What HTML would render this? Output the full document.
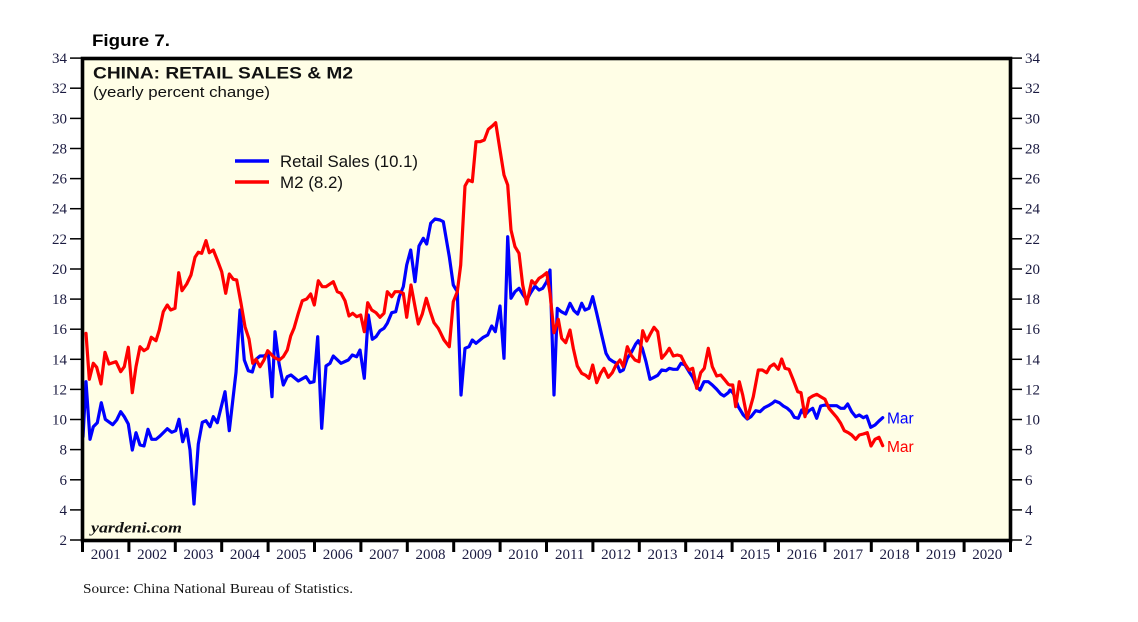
<!DOCTYPE html>
<html>
<head>
<meta charset="utf-8">
<style>
html,body{margin:0;padding:0;background:#ffffff;}
svg{display:block;}
</style>
</head>
<body>
<svg width="1138" height="622" viewBox="0 0 1138 622" xmlns="http://www.w3.org/2000/svg">
<rect x="0" y="0" width="1138" height="622" fill="#ffffff"/>
<!-- plot background -->
<rect x="82.5" y="58.5" width="928" height="482" fill="#FFFEE6"/>

<!-- Title -->
<text x="92" y="46" font-family="Liberation Sans, Arial, sans-serif" font-weight="bold" font-size="16.5" fill="#000" textLength="78" lengthAdjust="spacingAndGlyphs">Figure 7.</text>
<text x="93" y="78.5" font-family="Liberation Sans, Arial, sans-serif" font-weight="bold" font-size="16.5" fill="#111" textLength="260" lengthAdjust="spacingAndGlyphs">CHINA: RETAIL SALES &amp; M2</text>
<text x="93" y="97" font-family="Liberation Sans, Arial, sans-serif" font-size="15" fill="#111" textLength="177" lengthAdjust="spacingAndGlyphs">(yearly percent change)</text>

<!-- Legend -->
<line x1="235" y1="161" x2="269" y2="161" stroke="#0000ff" stroke-width="3.5"/>
<line x1="235" y1="182" x2="269" y2="182" stroke="#ff0000" stroke-width="3.5"/>
<text x="280" y="167" font-family="Liberation Sans, Arial, sans-serif" font-size="16.5" fill="#111" textLength="138" lengthAdjust="spacingAndGlyphs">Retail Sales (10.1)</text>
<text x="280" y="188" font-family="Liberation Sans, Arial, sans-serif" font-size="16.5" fill="#111" textLength="63" lengthAdjust="spacingAndGlyphs">M2 (8.2)</text>

<!-- series -->
<g fill="none" stroke-width="3.2" stroke-linejoin="round" stroke-linecap="round">
<polyline stroke="#0000ff" points="83,436.7 86,381.7 90,439.3 93.3,426.7 97.3,422.7 101.3,402.7 105.3,419.3 112.7,424.7 116.7,420 120.7,411.7 124.3,416.7 128.3,424 132.3,450 136,432.7 140,445 144,446 148,429.3 151.7,439.3 156,439.3 160,436 167.3,428.7 171.7,432.3 175.7,430.7 179,419.3 182.7,441.7 186.7,429.3 190,450 194,504 198.3,444 202.3,422.3 206,420.7 210,426.7 213.3,416.7 217.3,422.7 225,391.7 229.3,430.7 236,372.3 240,310 244.3,360 248.3,370.7 252.3,372 256,359.3 260,356 264,356 268.3,353.3 272,396.7 275,331.7 279,363.3 283.3,385 287.3,376.7 291,375 298.3,381 306,376.7 310,382.7 314,381.7 317.7,336.7 321.7,428.3 326,366 330,363.3 333.3,356 341,363.3 348.3,360 352.3,355 356.7,356.7 360,350 364.3,378.3 368.3,315 372.3,339.3 376,336.7 380,330.7 384,328.3 387.3,323.3 391.7,312.7 395.7,311.7 399.3,296.7 403.3,286.7 406.7,265 410.7,250 415,281.7 419,246 423.3,238.3 426.7,244 430.7,223.3 435,219 440,220 443.3,221.7 449.3,256.7 453.3,285 457.3,291.7 461,395 465,348.3 469,346.7 472.3,340 476,343.3 480,340 483.3,337.3 487.7,335 491.7,326 495.3,331.7 500,306 504,358.3 507.7,236.7 511,298.3 515,291.7 519,288.3 522.7,294.3 526.7,300 530.7,292.7 535,286 539,290 542.7,288.3 546.7,281.7 550,270 554,395 557.3,308.3 561.3,311.7 565.7,314 570,303.3 574,310.7 577.7,314 581.7,303.3 585,310 589,308.3 592.7,296.7 596.7,313.3 601.7,335 606,353.3 609.3,359 613.3,361.7 616.7,363.3 620,371.7 623.3,370 627.3,358.3 631.7,351.7 635.7,344 638.3,340.7 642.3,348.3 646,361.7 650,379.3 654,377.3 657.7,375.3 661.7,370 666,370.7 669.3,368.3 673.3,369.3 677.3,369.3 681,363.3 685,365 689,371.7 692.7,377.3 696.7,386.7 700,390 704,381.7 708.3,381.7 712.3,385 716.7,389.3 720.7,394 724,396 728.3,392.7 730,390 733.3,393.3 738.3,406.7 743.3,415 747.3,419 751,416.7 755.7,410.7 760,411.7 764.3,407.7 768.3,405.7 772.3,403.3 775,401 779.3,402.7 783.3,406 787.3,408.3 791,411.7 794.3,417.3 798.3,418.3 801.7,410 805,415 809,410.7 812.7,408.3 816.7,418.3 820.7,406 825,405 829,405.7 832.7,405.7 836.7,405.7 840.7,408.3 844.3,408.3 847.7,404 851.7,411.7 855.7,416.7 859.3,415 863.3,417.7 866.7,416 870.7,427.3 875,425 879,421 882.7,417.7"/>
<polyline stroke="#ff0000" points="86,333.3 89.3,379.3 93.3,363.3 96.7,367.3 101,384 105,352.3 109,364 116,361.7 120.7,371.7 124.3,366.7 128.3,347.3 132.3,392.7 136,366.7 140,346.7 144,350.7 147.7,348.3 151.3,337.3 156,340.7 159.3,330 163.3,311.7 167.3,305 170.7,310 175,308.3 178.7,272.7 182,290.7 186.7,284 191,275 195,257.3 198.3,252.3 201.7,253.3 206,240.7 209.3,252.7 213.3,250 217.3,260 221.7,271.7 225.7,293.3 229.3,274 233.3,279.3 236.7,280 241,303.3 245,326.7 249,339 252.7,363.3 256,359.3 260,366.7 264,360 267.7,350.7 274,357.3 279.3,360 283.3,356.7 287.3,350 290.7,336 294,328.3 298.3,313.3 302.3,300.7 306.7,299 310.7,294 314.3,305 318.3,280.7 322.3,286.7 326,286.7 333.3,281.7 337.3,291.7 341,293.3 345,300.7 349,316 352.7,313.3 356.7,316.7 360.7,315 364.3,331.7 367.7,302.7 371.7,310 376,312.7 380,317.3 384,313.3 387.3,291.7 391.7,296.7 395,291.7 399.3,291.7 403.3,293.3 406.7,317.3 411,285 415,306.7 418.3,324 422.3,314 426.3,298.3 430,310.7 434,322.7 438.3,328.3 440,331.7 444,340 449.3,346.7 453.3,301.7 457.3,291.7 460.7,265 465,186 468.3,180 472.3,181.7 476,141.7 480,141.7 484.3,140 488.3,129.3 492.3,126 495.7,122.7 500,150 504,175 507.7,185 511,230 515,246.7 519,253.3 522.7,285 526.7,304 531.7,280.7 535,284 539,278.3 542.7,276 546.7,272.7 550,293.3 554,332.7 558.3,319.3 561.7,338.3 565.7,342.7 570,330 573.3,348.3 577.3,366 581.7,373.3 585.7,375.3 589,378.3 592.7,365 596.7,382.7 600.7,373.3 604,368.3 608.3,377.3 612.3,372.7 616,365 620,360 623.3,366.7 627.3,346.7 631,355 635,360 639,361.7 642.7,330.7 646.7,341 650.7,333.3 654,327.3 657.7,331.7 661.7,358.3 666,353.3 669.3,348.3 673.3,356 677.3,355 681,356 685,364 689,370 692.7,368.3 696.7,388.3 700.7,372.7 704.3,368.3 708.3,348.3 712.3,366.7 716.7,376 720.7,375 724.3,379.3 728.3,384.3 730,385 732.7,385 735.7,406.7 739.3,381.7 742.7,395 747.3,418.3 753.3,396.7 758.3,370 762.3,370 766.7,372.7 770,366.7 774,364 778.3,369.3 781.7,359 785,368.3 789,369.3 793.3,380 797.7,391.7 801,392.7 805,416.7 809,398.3 812.7,396 816.7,394.3 820.7,396.7 825,399.3 829,408.3 832.7,412.7 836.7,417.3 840.7,423.3 844.3,430.7 848.3,432.7 851.7,435 855.7,439.3 859.3,435 863.3,434 867.3,432.7 871,446 875,439.3 879,437.3 882.7,445.7"/>
</g>

<!-- end labels -->
<text x="887" y="423.5" font-family="Liberation Sans, Arial, sans-serif" font-size="15.5" fill="#0000ff">Mar</text>
<text x="887" y="452" font-family="Liberation Sans, Arial, sans-serif" font-size="15.5" fill="#ff0000">Mar</text>

<!-- watermark -->
<text x="91" y="532.5" font-family="Liberation Serif, Times New Roman, serif" font-style="italic" font-weight="bold" font-size="15" fill="#111" textLength="91" lengthAdjust="spacingAndGlyphs">yardeni.com</text>

<!-- frame -->
<rect x="82.5" y="58.5" width="928" height="482" fill="none" stroke="#000" stroke-width="3.6"/>

<!-- y ticks & labels -->
<g stroke="#000" stroke-width="1.5">
<line x1="70" y1="58.1" x2="82" y2="58.1"/><line x1="1011" y1="58.1" x2="1022" y2="58.1"/>
<line x1="70" y1="88.2" x2="82" y2="88.2"/><line x1="1011" y1="88.2" x2="1022" y2="88.2"/>
<line x1="70" y1="118.4" x2="82" y2="118.4"/><line x1="1011" y1="118.4" x2="1022" y2="118.4"/>
<line x1="70" y1="148.5" x2="82" y2="148.5"/><line x1="1011" y1="148.5" x2="1022" y2="148.5"/>
<line x1="70" y1="178.6" x2="82" y2="178.6"/><line x1="1011" y1="178.6" x2="1022" y2="178.6"/>
<line x1="70" y1="208.7" x2="82" y2="208.7"/><line x1="1011" y1="208.7" x2="1022" y2="208.7"/>
<line x1="70" y1="238.8" x2="82" y2="238.8"/><line x1="1011" y1="238.8" x2="1022" y2="238.8"/>
<line x1="70" y1="269" x2="82" y2="269"/><line x1="1011" y1="269" x2="1022" y2="269"/>
<line x1="70" y1="299.1" x2="82" y2="299.1"/><line x1="1011" y1="299.1" x2="1022" y2="299.1"/>
<line x1="70" y1="329.2" x2="82" y2="329.2"/><line x1="1011" y1="329.2" x2="1022" y2="329.2"/>
<line x1="70" y1="359.3" x2="82" y2="359.3"/><line x1="1011" y1="359.3" x2="1022" y2="359.3"/>
<line x1="70" y1="389.4" x2="82" y2="389.4"/><line x1="1011" y1="389.4" x2="1022" y2="389.4"/>
<line x1="70" y1="419.5" x2="82" y2="419.5"/><line x1="1011" y1="419.5" x2="1022" y2="419.5"/>
<line x1="70" y1="449.6" x2="82" y2="449.6"/><line x1="1011" y1="449.6" x2="1022" y2="449.6"/>
<line x1="70" y1="479.8" x2="82" y2="479.8"/><line x1="1011" y1="479.8" x2="1022" y2="479.8"/>
<line x1="70" y1="509.9" x2="82" y2="509.9"/><line x1="1011" y1="509.9" x2="1022" y2="509.9"/>
<line x1="70" y1="540" x2="82" y2="540"/><line x1="1011" y1="540" x2="1022" y2="540"/>
</g>
<g font-family="Liberation Serif, Times New Roman, serif" font-size="15" fill="#1a1a40">
<g text-anchor="end">
<text x="67" y="63.1">34</text><text x="67" y="93.2">32</text><text x="67" y="123.4">30</text><text x="67" y="153.5">28</text>
<text x="67" y="183.6">26</text><text x="67" y="213.7">24</text><text x="67" y="243.8">22</text><text x="67" y="274">20</text>
<text x="67" y="304.1">18</text><text x="67" y="334.2">16</text><text x="67" y="364.3">14</text><text x="67" y="394.4">12</text>
<text x="67" y="424.5">10</text><text x="67" y="454.6">8</text><text x="67" y="484.8">6</text><text x="67" y="514.9">4</text>
<text x="67" y="545">2</text>
</g>
<g text-anchor="start">
<text x="1025" y="63.1">34</text><text x="1025" y="93.2">32</text><text x="1025" y="123.4">30</text><text x="1025" y="153.5">28</text>
<text x="1025" y="183.6">26</text><text x="1025" y="213.7">24</text><text x="1025" y="243.8">22</text><text x="1025" y="274">20</text>
<text x="1025" y="304.1">18</text><text x="1025" y="334.2">16</text><text x="1025" y="364.3">14</text><text x="1025" y="394.4">12</text>
<text x="1025" y="424.5">10</text><text x="1025" y="454.6">8</text><text x="1025" y="484.8">6</text><text x="1025" y="514.9">4</text>
<text x="1025" y="545">2</text>
</g>
</g>

<!-- x ticks -->
<g stroke="#000" stroke-width="3">
<line x1="82.5" y1="540" x2="82.5" y2="552"/>
<line x1="128.9" y1="540" x2="128.9" y2="552"/>
<line x1="175.3" y1="540" x2="175.3" y2="552"/>
<line x1="221.7" y1="540" x2="221.7" y2="552"/>
<line x1="268.1" y1="540" x2="268.1" y2="552"/>
<line x1="314.5" y1="540" x2="314.5" y2="552"/>
<line x1="360.9" y1="540" x2="360.9" y2="552"/>
<line x1="407.3" y1="540" x2="407.3" y2="552"/>
<line x1="453.7" y1="540" x2="453.7" y2="552"/>
<line x1="500.1" y1="540" x2="500.1" y2="552"/>
<line x1="546.5" y1="540" x2="546.5" y2="552"/>
<line x1="592.9" y1="540" x2="592.9" y2="552"/>
<line x1="639.3" y1="540" x2="639.3" y2="552"/>
<line x1="685.7" y1="540" x2="685.7" y2="552"/>
<line x1="732.1" y1="540" x2="732.1" y2="552"/>
<line x1="778.5" y1="540" x2="778.5" y2="552"/>
<line x1="824.9" y1="540" x2="824.9" y2="552"/>
<line x1="871.3" y1="540" x2="871.3" y2="552"/>
<line x1="917.7" y1="540" x2="917.7" y2="552"/>
<line x1="964.1" y1="540" x2="964.1" y2="552"/>
<line x1="1010.5" y1="540" x2="1010.5" y2="552"/>
</g>
<g font-family="Liberation Serif, Times New Roman, serif" font-size="15" fill="#1a1a40" text-anchor="middle">
<text x="105.7" y="559">2001</text><text x="152.1" y="559">2002</text><text x="198.5" y="559">2003</text>
<text x="244.9" y="559">2004</text><text x="291.3" y="559">2005</text><text x="337.7" y="559">2006</text>
<text x="384.1" y="559">2007</text><text x="430.5" y="559">2008</text><text x="476.9" y="559">2009</text>
<text x="523.3" y="559">2010</text><text x="569.7" y="559">2011</text><text x="616.1" y="559">2012</text>
<text x="662.5" y="559">2013</text><text x="708.9" y="559">2014</text><text x="755.3" y="559">2015</text>
<text x="801.7" y="559">2016</text><text x="848.1" y="559">2017</text><text x="894.5" y="559">2018</text>
<text x="940.9" y="559">2019</text><text x="987.3" y="559">2020</text>
</g>

<!-- source -->
<text x="83" y="593" font-family="Liberation Serif, Times New Roman, serif" font-size="14" fill="#111" textLength="270" lengthAdjust="spacingAndGlyphs">Source: China National Bureau of Statistics.</text>
</svg>
</body>
</html>
